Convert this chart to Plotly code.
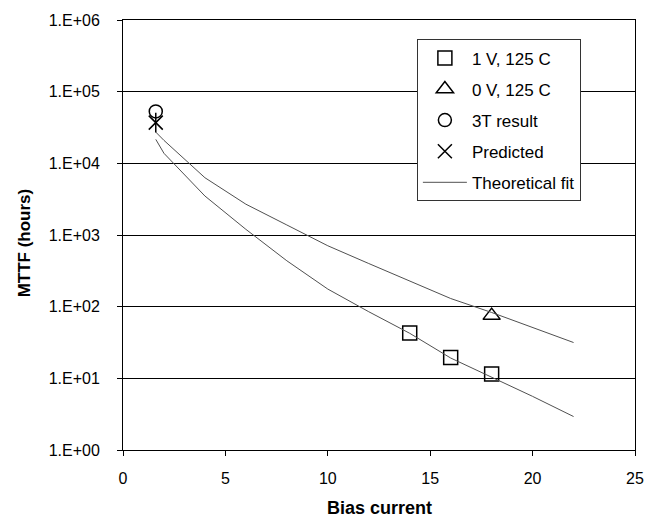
import plotly.graph_objects as go

# ---- data ----
v1_x = [14, 16, 18]
v1_y = [43, 19.5, 11.5]

v0_x = [18]
v0_y = [75]

t3_x = [1.6]
t3_y = [53000]

pred_x = [1.6]
pred_y = [37000]

fit_x = [1.6, 2, 4, 6, 8, 10, 12, 14, 16, 18, 20, 22]
fit_upper = [27300, 20900, 6300, 2690, 1380, 708, 400, 230, 130, 83, 51, 31.6]
fit_lower = [21600, 13800, 3500, 1200, 437, 176, 85, 42.5, 19.2, 10.5, 5.6, 2.93]

y_tickvals = [1, 10, 100, 1000, 10000, 100000, 1000000]
y_ticktext = ["1.E+00", "1.E+01", "1.E+02", "1.E+03", "1.E+04", "1.E+05", "1.E+06"]
x_tickvals = [0, 5, 10, 15, 20, 25]

x_title = "Bias current"
y_title = "MTTF (hours)"

FONT = "Liberation Sans, Arial, sans-serif"
fig = go.Figure()

mk_line = dict(color="black", width=1.5)
fig.add_trace(go.Scatter(x=v1_x, y=v1_y, mode="markers", name="1 V, 125 C",
                         legendgroup="a",
                         marker=dict(symbol="square-open", size=14, color="black", line=mk_line)))
fig.add_trace(go.Scatter(x=v0_x, y=v0_y, mode="markers", name="0 V, 125 C",
                         legendgroup="b",
                         marker=dict(symbol="triangle-up-open", size=15, color="black", line=mk_line)))
fig.add_trace(go.Scatter(x=t3_x, y=t3_y, mode="markers", name="3T result",
                         legendgroup="c",
                         marker=dict(symbol="circle-open", size=13, color="black", line=mk_line)))
fig.add_trace(go.Scatter(x=pred_x, y=pred_y, mode="markers", name="Predicted",
                         legendgroup="d",
                         marker=dict(symbol="x-thin-open", size=14, color="black", line=mk_line)))
fig.add_trace(go.Scatter(x=pred_x, y=pred_y, mode="markers", showlegend=False,
                         legendgroup="d",
                         marker=dict(symbol="line-ns-open", size=14, color="black", line=mk_line)))
fig.add_trace(go.Scatter(x=fit_x, y=fit_upper, mode="lines", name="Theoretical fit",
                         legendgroup="e",
                         line=dict(color="#505050", width=1)))
fig.add_trace(go.Scatter(x=fit_x, y=fit_lower, mode="lines", showlegend=False,
                         legendgroup="e",
                         line=dict(color="#505050", width=1)))

fig.update_layout(
    width=659, height=525,
    margin=dict(l=123, r=24, t=18, b=75),
    paper_bgcolor="white", plot_bgcolor="white",
    font=dict(family=FONT, size=16, color="black"),
    showlegend=True,
    legend=dict(x=0.574, y=0.955, xanchor="left", yanchor="top",
                bgcolor="white", bordercolor="#333333", borderwidth=1,
                font=dict(size=17), tracegroupgap=6, itemwidth=44),
    xaxis=dict(range=[0, 25], tickvals=x_tickvals, ticks="outside", ticklen=5,
               tickcolor="black", showline=True, linecolor="black", linewidth=1,
               mirror=True, showgrid=False, zeroline=False, ticklabelstandoff=9),
    yaxis=dict(type="log", range=[0, 6], tickvals=y_tickvals, ticktext=y_ticktext,
               ticks="outside", ticklen=5, tickcolor="black",
               showline=True, linecolor="black", linewidth=1, mirror=True,
               showgrid=True, gridcolor="black", gridwidth=1, zeroline=False,
               ticklabelstandoff=14),
    annotations=[
        dict(text="<b>" + x_title + "</b>", xref="paper", yref="paper",
             x=0.5, y=-0.136, xanchor="center", yanchor="middle",
             showarrow=False, font=dict(size=18)),
        dict(text="<b>" + y_title + "</b>", xref="paper", yref="paper",
             x=-0.193, y=0.481, xanchor="center", yanchor="middle",
             textangle=-90, showarrow=False, font=dict(size=17)),
    ],
)

fig.write_html("out.html")
